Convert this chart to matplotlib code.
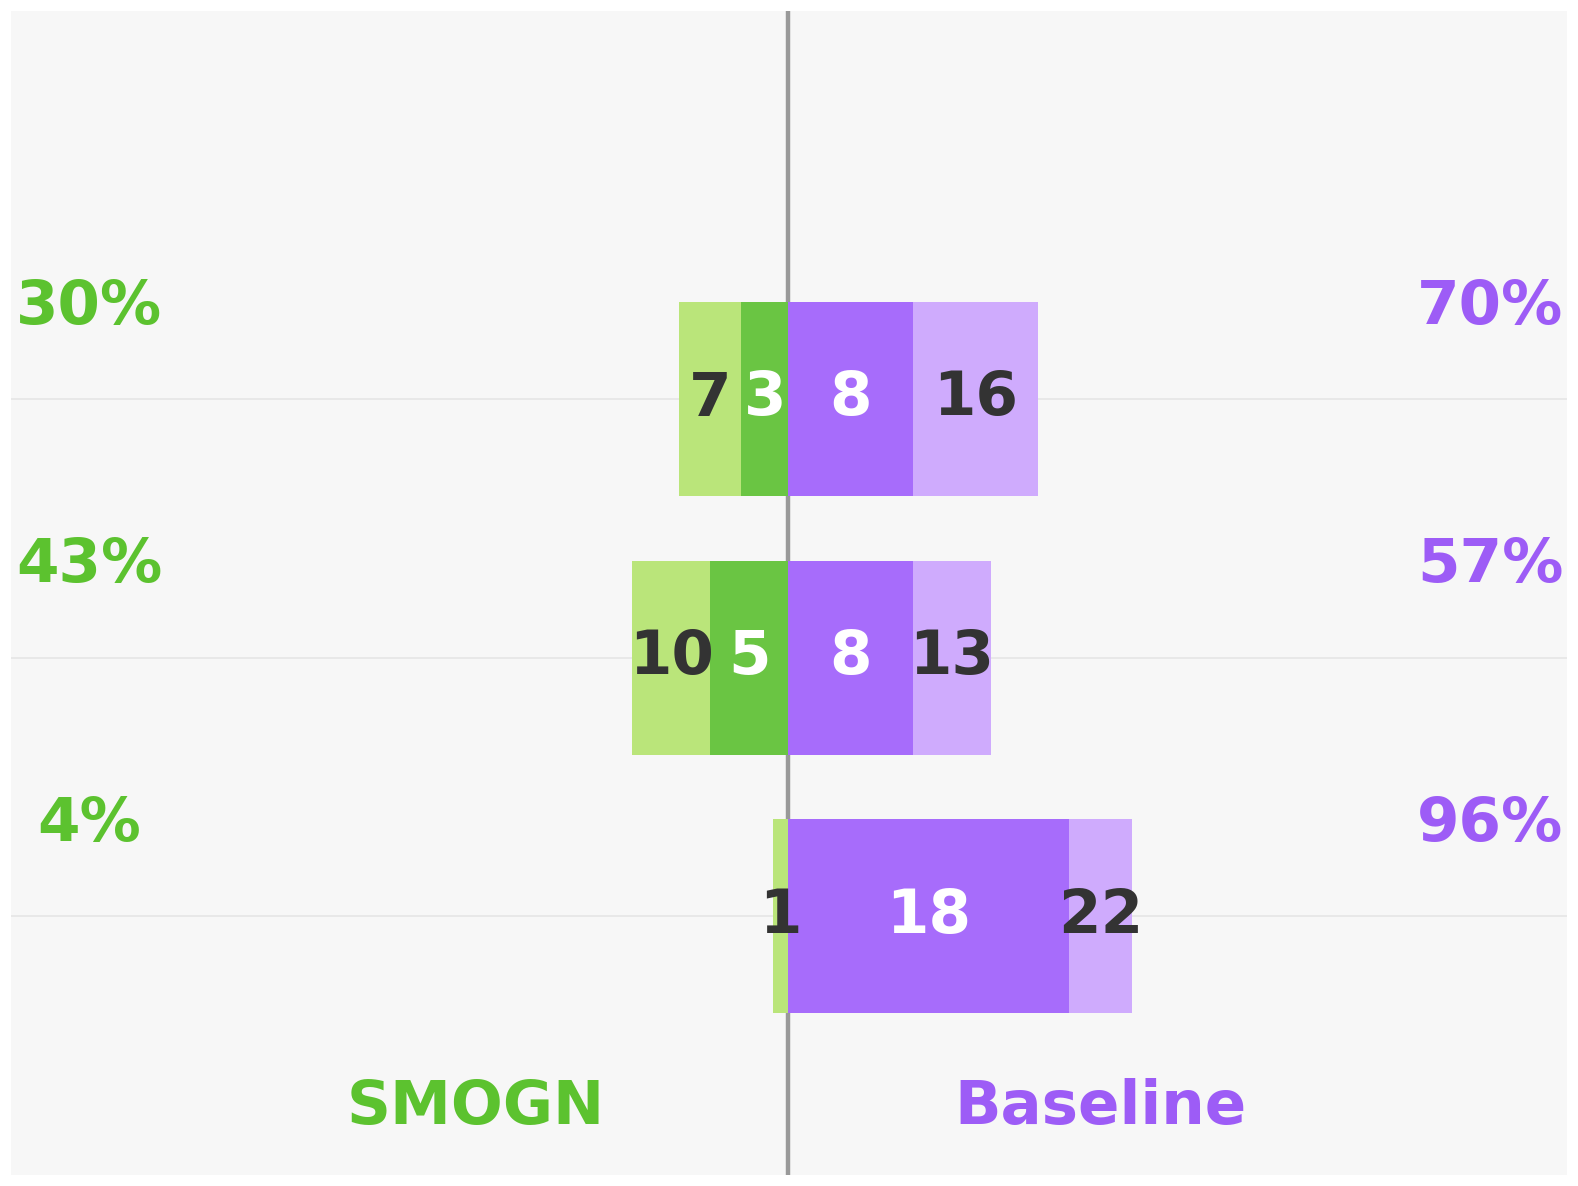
import matplotlib.pyplot as plt

ROWS = ["A", "B", "C"]
SMOGN_TOTAL = [7, 10, 1]
SMOGN_STRONG = [3, 5, 0]
BASE_TOTAL = [16, 13, 22]
BASE_STRONG = [8, 8, 18]
SMOGN_PCT = ["30%", "43%", "4%"]
BASE_PCT = ["70%", "57%", "96%"]

GREEN_LIGHT = "#bae57a"
GREEN_DARK = "#6ac543"
PURPLE_DARK = "#a76cfb"
PURPLE_LIGHT = "#cfabfd"
GREEN_TEXT = "#5cc22f"
PURPLE_TEXT = "#9d5cf6"

fig = plt.figure(figsize=(15.78, 11.86), dpi=100)
ax = fig.add_axes([11 / 1578, 11 / 1186, 1556 / 1578, 1164 / 1186])
ax.set_facecolor("#f7f7f7")

ys = list(range(len(ROWS)))
height = 0.75

for y in ys:
    ax.axhline(y, color="#e6e6e6", linewidth=1.2, zorder=0)

ax.axvline(0, color="#999999", linewidth=3.2, zorder=1)

for y, tot, strong in zip(ys, SMOGN_TOTAL, SMOGN_STRONG):
    ax.barh(y, -(tot - strong), left=-strong, height=height,
            color=GREEN_LIGHT, linewidth=0, zorder=2)
    ax.barh(y, -strong, height=height, color=GREEN_DARK, linewidth=0, zorder=2)
    ax.text(-(tot + strong) / 2, y, str(tot), ha="center", va="center",
            fontsize=44, fontweight="bold", color="#333333", zorder=3)
    if strong > 0:
        ax.text(-strong / 2, y, str(strong), ha="center", va="center",
                fontsize=44, fontweight="bold", color="white", zorder=3)

for y, tot, strong in zip(ys, BASE_TOTAL, BASE_STRONG):
    ax.barh(y, strong, height=height, color=PURPLE_DARK, linewidth=0, zorder=2)
    ax.barh(y, tot - strong, left=strong, height=height,
            color=PURPLE_LIGHT, linewidth=0, zorder=2)
    ax.text(strong / 2, y, str(strong), ha="center", va="center",
            fontsize=44, fontweight="bold", color="white", zorder=3)
    ax.text((tot + strong) / 2, y, str(tot), ha="center", va="center",
            fontsize=44, fontweight="bold", color="#333333", zorder=3)

for y, lp, rp in zip(ys, SMOGN_PCT, BASE_PCT):
    ax.text(-44.8, y - 0.355, lp, ha="center", va="center",
            fontsize=44, fontweight="bold", color=GREEN_TEXT)
    ax.text(45, y - 0.355, rp, ha="center", va="center",
            fontsize=44, fontweight="bold", color=PURPLE_TEXT)

ax.text(-20, 2.74, "SMOGN", ha="center", va="center",
        fontsize=44, fontweight="bold", color=GREEN_TEXT)
ax.text(20, 2.74, "Baseline", ha="center", va="center",
        fontsize=44, fontweight="bold", color=PURPLE_TEXT)

ax.set_xlim(-49.8, 49.9)
ax.set_ylim(3.0, -1.5)
ax.set_xticks([])
ax.set_yticks([])
for spine in ax.spines.values():
    spine.set_visible(False)

fig.savefig("out.png", dpi=100, facecolor="white")
